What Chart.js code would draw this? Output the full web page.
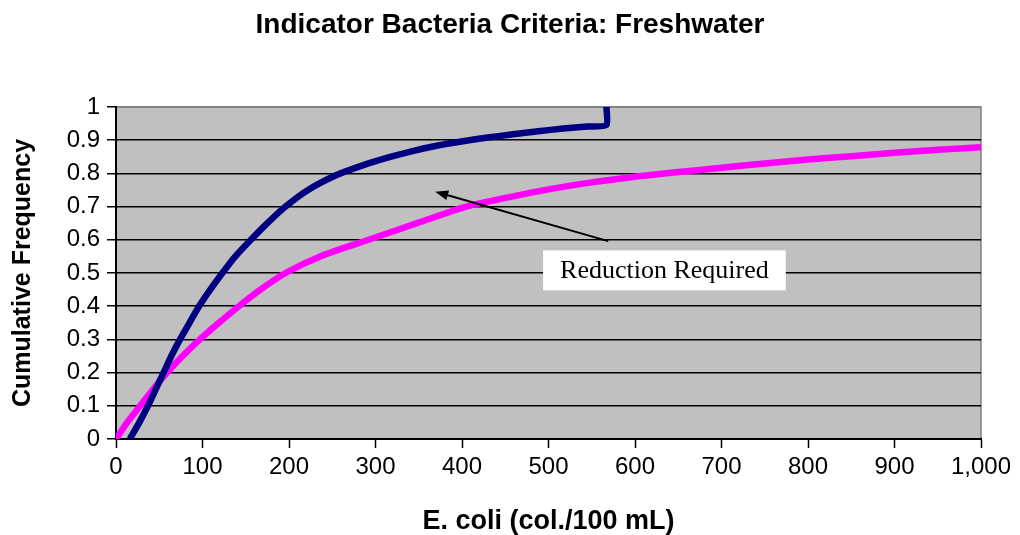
<!DOCTYPE html>
<html>
<head>
<meta charset="utf-8">
<script src="https://cdn.jsdelivr.net/npm/chart.js@4.4.1/dist/chart.umd.min.js"></script>
<style>
  html, body { margin: 0; padding: 0; background: #ffffff; }
  #wrap { width: 1020px; height: 535px; position: relative; }
</style>
</head>
<body>
<div id="wrap"><canvas id="cdfChart"></canvas></div>
<script>
// E. coli cumulative frequency curves
const targetX = [16, 27, 37, 46, 55, 64, 74, 85, 96, 109, 123, 138, 156, 175, 196, 222, 255, 286, 315, 344, 372, 401, 430, 459, 488, 517, 545, 567, 567];
const targetY = [0, 0.05, 0.1, 0.15, 0.2, 0.25, 0.3, 0.35, 0.4, 0.45, 0.5, 0.55, 0.6, 0.65, 0.7, 0.75, 0.795, 0.825, 0.848, 0.868, 0.884, 0.897, 0.908, 0.918, 0.927, 0.935, 0.941, 0.946, 1];

const existingX = [0, 13, 28, 43, 59, 77, 97, 119, 142, 167, 196, 236, 292, 348, 405, 452, 500, 550, 600, 650, 700, 750, 800, 850, 900, 950, 1000];
const existingY = [0, 0.05, 0.1, 0.15, 0.2, 0.25, 0.3, 0.35, 0.4, 0.45, 0.5, 0.55, 0.6, 0.65, 0.7, 0.727, 0.752, 0.773, 0.79, 0.804, 0.817, 0.83, 0.842, 0.852, 0.862, 0.871, 0.879];

const xTicks = [0, 100, 200, 300, 400, 500, 600, 700, 800, 900, 1000];
const xTickLabels = ['0', '100', '200', '300', '400', '500', '600', '700', '800', '900', '1,000'];
const yTicks = [0, 0.1, 0.2, 0.3, 0.4, 0.5, 0.6, 0.7, 0.8, 0.9, 1];
const yTickLabels = ['0', '0.1', '0.2', '0.3', '0.4', '0.5', '0.6', '0.7', '0.8', '0.9', '1'];

const chartTitle = 'Indicator Bacteria Criteria: Freshwater';
const noteText = 'Reduction Required';
const notePos = [634, 0.508];     // centre of the label, in data units
const arrowFrom = [569, 0.596];
const arrowTo = [369, 0.745];

const sans = '"Liberation Sans", Arial, sans-serif';

function toPoints(xs, ys) {
    return xs.map((x, i) => ({ x: x, y: ys[i] }));
}

// grey plot area like the old Excel default
const plotBackground = {
    id: 'plotBackground',
    beforeDraw(chart) {
        const { ctx, chartArea: a } = chart;
        ctx.save();
        ctx.fillStyle = '#c0c0c0';
        ctx.fillRect(a.left, a.top, a.right - a.left, a.bottom - a.top);
        ctx.strokeStyle = '#808080';
        ctx.lineWidth = 1.5;
        ctx.strokeRect(a.left, a.top, a.right - a.left, a.bottom - a.top);
        ctx.restore();
    }
};

// title, text box and arrow
const notes = {
    id: 'notes',
    afterDatasetsDraw(chart) {
        const { ctx, scales: { x, y } } = chart;
        ctx.save();

        // arrow
        const x0 = x.getPixelForValue(arrowFrom[0]), y0 = y.getPixelForValue(arrowFrom[1]);
        const x1 = x.getPixelForValue(arrowTo[0]), y1 = y.getPixelForValue(arrowTo[1]);
        const ang = Math.atan2(y1 - y0, x1 - x0);
        const head = 13;
        ctx.strokeStyle = '#000';
        ctx.fillStyle = '#000';
        ctx.lineWidth = 2;
        ctx.beginPath();
        ctx.moveTo(x0, y0);
        ctx.lineTo(x1 - Math.cos(ang) * head * 0.8, y1 - Math.sin(ang) * head * 0.8);
        ctx.stroke();
        ctx.beginPath();
        ctx.moveTo(x1, y1);
        ctx.lineTo(x1 - head * Math.cos(ang) + 5 * Math.sin(ang), y1 - head * Math.sin(ang) - 5 * Math.cos(ang));
        ctx.lineTo(x1 - head * Math.cos(ang) - 5 * Math.sin(ang), y1 - head * Math.sin(ang) + 5 * Math.cos(ang));
        ctx.closePath();
        ctx.fill();

        // label box
        const bx = x.getPixelForValue(notePos[0]);
        const by = y.getPixelForValue(notePos[1]);
        ctx.font = '26px "Liberation Serif", "Times New Roman", serif';
        const w = ctx.measureText(noteText).width;
        ctx.fillStyle = '#ffffff';
        ctx.fillRect(bx - w / 2 - 17, by - 20, w + 34, 40);
        ctx.fillStyle = '#000';
        ctx.textAlign = 'center';
        ctx.textBaseline = 'middle';
        ctx.fillText(noteText, bx, by + 1);
        ctx.restore();
    },
    afterDraw(chart) {
        const ctx = chart.ctx;
        ctx.save();
        ctx.font = 'bold 28px ' + sans;
        ctx.fillStyle = '#000';
        ctx.textAlign = 'center';
        ctx.textBaseline = 'middle';
        ctx.fillText(chartTitle, chart.width / 2, 25);
        ctx.restore();
    }
};

const ctx = document.getElementById('cdfChart').getContext('2d');
const cdfChart = new Chart(ctx, {
    type: 'scatter',
    data: {
        datasets: [{
            label: 'Criteria',
            data: toPoints(targetX, targetY),
            borderColor: '#000080',
            backgroundColor: '#000080',
            borderWidth: 6.5,
            showLine: true,
            pointRadius: 0,
            tension: 0.2,
            clip: 0
        }, {
            label: 'Existing',
            data: toPoints(existingX, existingY),
            borderColor: '#ff00ff',
            backgroundColor: '#ff00ff',
            borderWidth: 6.5,
            showLine: true,
            pointRadius: 0,
            tension: 0.3,
            clip: 0
        }]
    },
    options: {
        responsive: true,
        maintainAspectRatio: false,
        animation: false,
        layout: { padding: { top: 107, left: 0, right: 39, bottom: 0 } },
        plugins: {
            legend: { display: false },
            tooltip: { enabled: false },
            title: { display: false }
        },
        scales: {
            x: {
                type: 'linear',
                min: 0,
                max: 1000,
                afterBuildTicks: axis => { axis.ticks = xTicks.map(v => ({ value: v })); },
                afterFit: axis => { axis.height = 96; },
                ticks: {
                    callback: (v, i) => xTickLabels[i],
                    color: '#000',
                    font: { family: sans, size: 24 },
                    padding: 5,
                    maxRotation: 0,
                    autoSkip: false
                },
                grid: { drawOnChartArea: false, tickLength: 9, tickColor: '#000', tickWidth: 1.5 },
                border: { color: '#000', width: 2 },
                title: {
                    display: true,
                    text: 'E. coli (col./100 mL)',
                    color: '#000',
                    font: { family: sans, size: 27, weight: 'bold', lineHeight: 1 },
                    padding: 0
                }
            },
            y: {
                min: 0,
                max: 1,
                afterBuildTicks: axis => { axis.ticks = yTicks.map(v => ({ value: v })); },
                afterFit: axis => { axis.width = 116; },
                ticks: {
                    callback: (v, i) => yTickLabels[i],
                    color: '#000',
                    font: { family: sans, size: 24 },
                    padding: 7
                },
                grid: {
                    color: c => (c.tick && c.tick.value === 1 ? '#808080' : '#000'),
                    lineWidth: 1.5,
                    tickLength: 9,
                    tickColor: '#000',
                    tickWidth: 1.5
                },
                border: { color: '#000', width: 2 },
                title: {
                    display: true,
                    text: 'Cumulative Frequency',
                    color: '#000',
                    font: { family: sans, size: 25, weight: 'bold', lineHeight: 1.2 },
                    padding: { top: 8, bottom: 0 }
                }
            }
        }
    },
    plugins: [plotBackground, notes]
});
</script>
</body>
</html>
